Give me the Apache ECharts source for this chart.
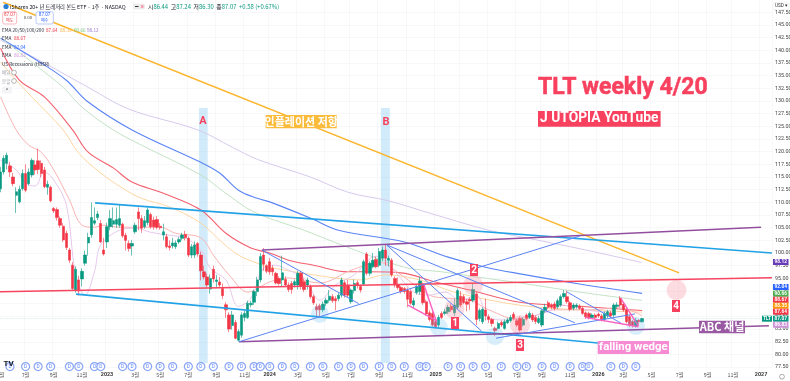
<!DOCTYPE html>
<html><head><meta charset="utf-8">
<style>html,body{margin:0;padding:0;background:#fff}#c{width:790px;height:381px}</style>
<script src="https://cdn.jsdelivr.net/npm/echarts@6/dist/echarts.min.js"></script>
</head><body><div id="c"></div>
<script>
// ---- weekly candles, oldest first (starting week of 2022-05-09) ----
const opens=[112.7,116,117.7,117.2,115,111.4,110.1,112.7,115.7,113.7,
115.4,117.4,118.2,117.7,116.4,113,113,108.8,108.6,106.8,
105.3,103.9,100.6,97.6,92.7,94.7,94.9,98,102,103.6,
105.9,107,105.85,100.6,102.2,105.2,105.7,105.7,105.5,105.7,
103.5,101.9,101.4,104.2,108.1,106.8,105.2,106,107.6,106.5,
106.6,105.3,103.55,103.2,101.4,101.4,101.25,102.2,102.9,103.7,
102.9,99.6,99.6,101.9,99.6,96.3,95.3,92.9,96.8,94.4,
94.3,93,89.8,87.8,85.7,86.3,82.8,83.8,87.3,87.3,
89.8,90.3,92.4,94.7,99.6,97.5,98.3,97,96,95,
94.7,94.8,93.7,94,93.7,93.7,96,94.35,93.7,93.4,
91.4,89.4,89.6,88.8,90.1,90.7,91.4,91,91,91.7,
94.15,93.7,90.4,92.6,94.15,93.4,93.9,99.8,96,97.3,
98.75,97.6,99,100.6,98.6,98.6,95,93.7,93.2,93,
92.7,92.4,89.75,92.2,92.4,93.7,90.4,88.2,88.1,86.45,
85.8,88.1,88.1,88.4,89.5,88.2,89.3,91.5,91.4,90.4,
90.9,90.7,91.9,87.1,86.45,88.76,87.45,86.9,85.14,85.14,
86.3,85.14,86.25,86.65,87.95,86.65,87.1,85.8,87.77,87.3,
87.77,87.3,86.3,85.8,88.6,90.2,89.75,89.95,89.4,89.75,
91.4,91.4,90.2,89.1,89.4,89.55,89.1,88.2,88.1,87.3,
87.77,87.97,87.6,86.9,87.6,88.2,87.77,89.5,91.06,89.95,
88.76,87.45,86.46,85.6,86.7,86.44];
const closes=[116,118.7,119.3,116,113.7,112.1,112.6,115.7,112.4,116,
118.3,116.4,116.5,115.7,113.1,113.6,110.3,108.3,107,105.5,
102.6,101.1,98.6,93,96.8,92.5,96.4,99.6,103.1,107,
106.4,107.7,102.2,99.8,105.2,106.8,106.4,106.6,106.8,103.4,
102.5,100.9,101.9,105.5,106.8,104.9,106.4,108.5,105.2,105.2,
105.1,105,104.2,101.25,101.1,102,102,102.7,103.55,103,
99.6,101.25,101.6,99.8,96.5,95.3,93.7,95,94.9,94.7,
93.7,91.6,88.8,85,87.8,83.2,84.5,87.8,88.1,90.1,
90.1,92.4,94.7,99.3,97.8,96.4,96.3,96.3,94.1,94,
96.1,93.7,92.8,92.8,94.35,96,93.4,92.8,94.7,91.4,
90.2,88.8,88.8,89.9,90.7,91.5,90.6,90.6,91.7,94.7,
91.7,91.7,92.7,94,93.7,92.7,98.3,96,98,98.6,
97.3,100.3,100.6,99,98.95,95.7,93.7,93.2,92.4,92.4,
90.9,90.1,90.6,93.4,94.5,90.2,88,86.9,85.8,85.47,
87.3,87.3,88.4,89.3,88.8,89.75,92.6,89.75,90.2,89.9,
90.6,92.8,86.9,88.7,88.9,87.6,86.9,86.1,84.7,86.1,
85.8,86.46,86.8,87.3,87.1,85.8,84.8,86.9,87.1,88.1,
86.8,86.5,87.1,88.6,89.3,89.3,89.3,89.1,90.6,91.4,
92,90.4,88.9,89.75,89.75,89.1,88.1,87.45,87.3,87.77,
87.3,87.6,86.9,88.1,88.43,87.6,89.75,89.75,89.75,88.76,
86.46,85.8,85.8,86.7,86.49,87.07];
const lows=[112,115.5,116.5,115,113.2,107.9,109.8,112.3,112,113.3,
114.9,115.5,115.6,115,112.8,111.5,110,107.9,106.4,105,
102.2,100.6,98,92.7,92.2,91.6,93.4,97.5,99.5,103,
105.5,106.5,102,99.5,101,104.5,105,105,105,103,
100.5,100.3,99.5,103.8,104.5,104,104.8,105.5,104.8,104.6,
104.7,104.6,102.5,100.9,100.5,100.9,100.8,101.8,102.5,102.5,
99.2,99,99,99.3,94.6,94.8,93.2,92,94.2,93.3,
93.3,90.9,87.2,84.4,84.9,83,82.5,83.3,86.5,87,
89.3,89.8,91.5,94.2,96.5,96,95.7,95.5,93.8,93.6,
93.5,93.3,92.3,92,93.2,92.8,92.8,92.3,92.8,91,
89.8,87.5,87.5,88.3,89.5,90.2,90.2,88.7,90.5,91.2,
91.2,91.2,90,92,93,92.2,93.5,95.6,95.5,97,
97,97.2,98.4,97.5,97.4,95.3,93.2,92.8,92,92,
89.3,89.8,89.2,91.8,91.8,89.8,87.6,86.5,85.5,85.1,
85.2,87,87.7,88,88.4,87.6,88.9,89.3,89.9,88.5,
88.8,90.3,85.8,86.5,86,86.7,86.2,85.5,83.6,84.9,
85.4,84.9,86,86.3,86.7,85.4,84.5,85.5,86.7,87,
86.4,86,86,85.4,88.2,88.9,88.9,88.7,89,89.4,
91,90,88.5,88.7,89,88.8,87.8,87,86.9,87,
87,87.2,86.5,86.5,87.2,87.2,87.4,89,89.3,88.4,
86.1,85.4,85.3,85.3,85.8,86.3];
const highs=[117,119.3,119.8,118,115.8,113,113.3,116.5,117.5,116.7,
118.7,118.3,120.6,118.3,117,114.3,113.3,109.1,109,107.2,
105.9,104.4,101,98.2,97.4,95.5,97,100.5,104,110,
109,108.3,106.5,103,106,108.5,109,109,109.5,106,
104,102.5,102.6,106,109,107.5,107.3,109,108,107.2,
107.3,105.9,105.8,103.8,102.5,103,102.5,103.2,104,104.4,
103.3,101.8,102.3,102.2,100.3,97.5,96,95.8,97.5,95.7,
95.3,94,90.3,88.3,88.6,86.8,85,88.3,88.6,90.6,
90.6,92.8,95.3,100,101,97.8,99,97.6,96.3,95.4,
99.5,95.4,94.2,94.5,94.8,96.5,96.5,95,95.2,93.8,
91.8,90,90,90.5,91.2,92.7,91.9,91.5,92.1,95.2,
94.6,94.7,93,94.8,94.6,93.8,98.7,100.2,98.4,100,
99.3,101,101.3,101.6,99.5,99,95.4,95.2,93.5,93.3,
93.2,92.8,91.2,93.8,95.3,94.2,90.8,88.7,88.5,86.9,
87.8,88.5,89,89.8,90,91,93,92.5,91.8,90.9,
91.2,94,92.3,89.1,89.3,91,87.9,87.2,85.5,86.5,
86.7,86.9,87.2,87.8,88.4,87,87.5,87.3,88.1,88.5,
88.2,87.7,87.6,89,90,90.6,90.1,90.4,91,91.8,
92.7,92.6,90.5,90.1,90.1,89.9,89.4,88.5,88.4,88.1,
88.1,88.3,88,88.5,88.8,88.6,90.1,90.3,91.5,90.3,
89.1,87.8,86.8,87.2,87,87.24];

// ---- moving averages as [week, price] ----
const ema200=[[0,142],[14,137.5],[28,132.7],[41,128.4],[63,124.3],[74,120.9],[82,118.5],[99,115],[111,112],[124,110.3],[137,107.9],[156,104.5],[168,103],[187,100.6],[205,98.12]];
const ema100=[[0,142.4],[13,137.5],[21,134.1],[28,129.8],[42,124.3],[64,117.9],[70,115.8],[76,112.4],[82,110.8],[86,110.1],[99,106.9],[108,104.5],[129,102.2],[143,99.2],[155,97.2],[166,95.9],[185,93.9],[205,92.04]];
const ema50=[[1,142],[12,136.7],[20,132.7],[26,128.8],[36,124.3],[45,121.3],[64,115.4],[72,111.8],[81,108.1],[97,104.5],[109,101.6],[129,97.2],[141,96.3],[152,95.3],[166,94.1],[185,92.3],[205,90.66]];
const ema34=[[0,140.4],[6,134.1],[14,130.8],[23,124.3],[28,119.9],[36,116.8],[42,114],[52,111.8],[64,108.5],[72,103.9],[80,101],[86,100],[92,98.6],[100,97.6],[111,96.3],[118,96.3],[128,96.1],[139,94.3],[150,92.7],[166,90.3],[185,89.5],[205,88.67]];
const ema30=[[0,137.7],[5,134.1],[10,130.8],[20,124.3],[25,119.7],[32,115.8],[39,112.8],[45,110.8],[54,109.1],[64,105.9],[71,102],[76,99.6],[82,98],[86,97.2],[100,95.7],[115,94.7],[123,95.7],[134,94.7],[145,92.3],[166,89.7],[185,88.8],[205,88.35]];
const ema20=[[0,130.8],[5,124.3],[9,121.3],[13,119.9],[17,116.4],[22,110.5],[26,105.5],[30,105.1],[33,105.5],[38,105.1],[45,105.1],[51,105.1],[56,103.9],[64,103],[68,99.6],[73,95.7],[79,92.3],[86,94.3],[92,95.1],[102,94.1],[112,96.6],[121,98.2],[128,95.7],[137,91.7],[143,91.1],[150,90.7],[156,88.8],[166,86.8],[177,88.8],[188,88.8],[198,89.2],[205,87.64]];
const ema10=[[0,118.3],[5,116.4],[8,113.8],[11,113.2],[14,116],[17,114.4],[21,109.5],[24,95.7],[27,91.7],[30,96.3],[32,101.6],[38,104.5],[43,104.9],[48,104.1],[54,103.5],[59,103],[64,100.6],[67,97],[72,94.7],[76,89.5],[80,91.1],[84,97],[88,97.6],[92,96.6],[97,95.1],[102,90.7],[107,93.7],[113,95.7],[120,99.4],[126,96.3],[132,92.3],[137,91.7],[142,92.3],[147,90.7],[152,91.7],[156,87.2],[161,86.8],[166,87.2],[174,88.2],[180,89.7],[187,88.8],[193,88.4],[198,89.7],[202,86.4],[205,86.83]];

// ---- hand-drawn trend lines, [week, price] end points ----
const inflationLine=[[0.8,149.5],[216.8,96.1]];
const channelUpper=[[30.2,109.9],[246.5,100]];
const channelLower=[[24.1,91.9],[190.9,82.25]];
const supportRed=[[-0.5,92.35],[246.5,95.13]];
const abcUpper=[[83.5,100.6],[243,105.1]];
const abcLower=[[76.2,82.5],[245.5,85.66]];
const thinRise1=[[76.2,82.5],[185.1,103.35]];
const thinRise2=[[158.3,83.2],[202.7,88]];
const thinFall1=[[83.5,100.6],[114.4,90.04]];
const thinFall2=[[123.4,101.6],[153.7,84.6]];
const thinFall3=[[123.4,101.6],[183.5,86.25]];
const thinFall4=[[180.9,92.37],[198.4,86.1]];
const wedgeA1=[[130.2,89.74],[139.3,86.65]];
const wedgeA2=[[135.3,93.7],[139.3,86.45]];
const wedgeB1=[[198.2,91.06],[203.8,85.6]];
const wedgeB2=[[186.7,87.3],[203.8,85.46]];

// ---- highlighted zones and markers ----
const zoneWeeks=[[63.4,66.2],[121.5,124.4]];
const zonePrices=[128.6,78.3];
const blueSpots=[[102,88],[140,85.4],[158,83.6],[203,85.6]];
const pinkSpots=[[145,89],[151,93.7],[166,85.8],[216,92.7]];
const dividendWeeks=[3,8,12,16,22,25,30,32,39,42,47,51,55,60,64,68,73,77,81,83,86,90,94,99,103,108,112,116,121,125,129,134,136,143,147,151,155,160,165,168,173,177,182,186,188,195,199,203];
const dividendRowPrice=77.6;
const lastPrice=87.07;

// ---- axis labels ----
const tickLabels={'2022-05-09':'5월','2022-07-04':'7월','2022-09-05':'9월','2022-11-07':'11월','2023-01-02':'2023','2023-03-06':'3월','2023-05-01':'5월','2023-07-03':'7월','2023-09-04':'9월','2023-11-06':'11월','2024-01-01':'2024','2024-03-04':'3월','2024-05-06':'5월','2024-07-01':'7월','2024-09-02':'9월','2024-11-04':'11월','2025-01-06':'2025','2025-03-03':'3월','2025-05-05':'5월','2025-07-07':'7월','2025-09-01':'9월','2025-11-03':'11월','2026-01-05':'2026','2026-03-02':'3월','2026-05-04':'5월','2026-07-06':'7월','2026-09-07':'9월','2026-11-02':'11월','2027-01-04':'2027'};
const weekCount=247;
const categories=[];
for(let i=0;i<weekCount;i++){categories.push(new Date(Date.UTC(2022,4,9+i*7)).toISOString().slice(0,10));}

const UP='#089981',DOWN='#f23645',RED='#f8415e',KR='"Noto Sans CJK KR","Noto Sans",sans-serif',LAT='Roboto,"Noto Sans CJK KR",sans-serif',NARROW='"Liberation Sans Narrow",Roboto,sans-serif';
const isTick=i=>tickLabels[categories[i]]!==undefined;

function emaSeries(d,color,w){return {type:'line',xAxisIndex:1,yAxisIndex:0,data:d,smooth:0.35,showSymbol:false,silent:true,z:2,lineStyle:{color:color,width:w||1}};}
function drawLine(d,color,w){return {type:'line',xAxisIndex:1,yAxisIndex:0,data:d,showSymbol:false,silent:true,z:6,lineStyle:{color:color,width:w}};}
const PURPLE='#934f9f',SKY='#22a2e6',THIN='#5b84f4',PINK='#fb5fc0';

const series=[
 {type:'line',xAxisIndex:1,yAxisIndex:0,data:[[-0.5,lastPrice],[246.5,lastPrice]],showSymbol:false,silent:true,z:1,
  lineStyle:{color:'rgba(8,153,129,0.28)',width:0.6,type:'dotted'},
  markArea:{silent:true,itemStyle:{color:'rgba(90,180,235,0.27)'},data:zoneWeeks.map(z=>[{xAxis:z[0],yAxis:zonePrices[0]},{xAxis:z[1],yAxis:zonePrices[1]}])}},
 emaSeries(ema200,'#d6c9ec'),emaSeries(ema100,'#5a84f5',1.1),emaSeries(ema50,'#c4e3c6'),
 emaSeries(ema34,'#f4606e',1.1),emaSeries(ema30,'#fdd6a0'),emaSeries(ema20,'#f9b3b3'),emaSeries(ema10,'#e6c8ec'),
 {type:'candlestick',xAxisIndex:0,yAxisIndex:0,data:opens.map((o,i)=>[o,closes[i],lows[i],highs[i]]),barWidth:2.8,silent:true,z:4,
  itemStyle:{color:UP,color0:DOWN,borderColor:UP,borderColor0:DOWN,borderWidth:0.6}},
 {type:'scatter',xAxisIndex:1,yAxisIndex:0,data:blueSpots,symbolSize:18,silent:true,z:5,itemStyle:{color:'rgba(100,190,240,0.3)'}},
 {type:'scatter',xAxisIndex:1,yAxisIndex:0,data:pinkSpots,symbolSize:20,silent:true,z:5,itemStyle:{color:'rgba(245,140,155,0.38)'}},
 drawLine(inflationLine,'#fbb62d',1.5),drawLine(channelUpper,SKY,1.6),drawLine(channelLower,SKY,1.6),
 drawLine(supportRed,'#f7455f',1.6),drawLine(abcUpper,PURPLE,1.6),drawLine(abcLower,PURPLE,1.6),
 drawLine(thinRise1,THIN,1),drawLine(thinRise2,THIN,1),drawLine(thinFall1,THIN,1),drawLine(thinFall2,THIN,1),drawLine(thinFall3,THIN,1),drawLine(thinFall4,THIN,1),
 drawLine(wedgeA1,PINK,1.4),drawLine(wedgeA2,PINK,1.4),drawLine(wedgeB1,PINK,1.4),drawLine(wedgeB2,PINK,1.4),
 {type:'scatter',xAxisIndex:1,yAxisIndex:0,data:dividendWeeks.map(w=>[w,dividendRowPrice]),symbolSize:8,silent:true,z:7,clip:false,
  itemStyle:{color:'#fff',borderColor:'#6d8ff5',borderWidth:1.2},
  label:{show:true,position:'inside',formatter:'D',fontSize:4.8,color:'#2962ff',fontFamily:LAT}}
];

// ---- text annotations ----
function txt(x,y,text,fill,size,extra){const e=extra||{};return {type:'text',silent:true,z:50,x:x,y:y,style:{text:text,fill:fill,stroke:e.stroke,lineWidth:e.stroke?0.5:0,font:(e.bold?'bold ':'')+size+'px '+(e.family||KR),textAlign:e.align||'left',textVerticalAlign:'middle'}};}
function box(x,y,w,h,fill,text,size,family){return [
 {type:'rect',silent:true,z:49,shape:{x:x,y:y,width:w,height:h},style:{fill:fill}},
 txt(x+w/2,y+h/2,text,'#fff',size,{bold:true,align:'center',family:family})];}
function badge(y,fill,text){return box(773,y-3,15.5,6,fill,text,4.8,LAT);}
const graphic=[
 {type:'circle',silent:true,z:50,shape:{cx:6,cy:6.5,r:2.6},style:{fill:'#2a7fd5'}},
 txt(10,6.5,'iShares 20+ 년 트레저리 본드 ETF · 1주 · NASDAQ','#131722',5.3),
 {type:'rect',silent:true,z:50,shape:{x:133,y:3.5,width:12,height:6,r:2},style:{fill:'#ececec'}},
 {type:'rect',silent:true,z:51,shape:{x:141,y:5,width:2.5,height:3},style:{fill:'#f9a0ae'}},
 {type:'rect',silent:true,z:51,shape:{x:135,y:6,width:3.5,height:1},style:{fill:'#333'}},
 {type:'text',silent:true,z:50,x:148,y:6.5,style:{text:'{d|시}{g|86.44}  {d|고}{g|87.24}  {d|저}{g|86.30}  {d|종}{g|87.07  +0.58 (+0.67%)}',font:'5.9px '+KR,textVerticalAlign:'middle',rich:{d:{fill:'#131722',font:'5.9px '+KR},g:{fill:'#089981',font:'5.9px '+KR}}}},
 {type:'rect',silent:true,z:50,shape:{x:2.7,y:11.7,width:14,height:12.3,r:2},style:{fill:'#fff',stroke:'#f7a8ad',lineWidth:0.8}},
 txt(9.7,15.3,'87.07',DOWN,4.6,{align:'center',family:LAT}),txt(9.7,20.5,'매도',DOWN,4,{align:'center'}),
 txt(28,17.5,'0.00','#555',4.4,{align:'center',family:LAT}),
 {type:'rect',silent:true,z:50,shape:{x:36,y:11.7,width:17.3,height:12.3,r:2},style:{fill:'#fff',stroke:'#a9bdf8',lineWidth:0.8}},
 txt(44.6,15.3,'87.07','#2962ff',4.6,{align:'center',family:LAT}),txt(44.6,20.5,'매수','#2962ff',4,{align:'center'}),
 txt(2,30,'EMA 20/50/100/200','#2a2e39',4.7),txt(46,30,'87.64',DOWN,4.7),txt(60,30,'88.35','#ffb74d',4.7),txt(74,30,'90.66','#81c784',4.7),txt(87,30,'98.12','#9575cd',4.7),
 txt(2,38.5,'EMA','#2a2e39',4.7),txt(14,38.5,'88.67',DOWN,4.7),
 txt(2,47,'EMA','#2a2e39',4.7),txt(14,47,'92.04','#2962ff',4.7),
 txt(2,55.5,'EMA','#2a2e39',4.7),txt(14,55.5,'86.83','#ce93d8',4.7),
 txt(2,64,'US Recessions (HBSR)','#2a2e39',4.7),
 txt(2,72.5,'배당','#a0a3ad',4.6),{type:'circle',silent:true,z:50,shape:{cx:14,cy:72.5,r:2.4},style:{fill:'#fff',stroke:'#888',lineWidth:0.6}},
 txt(2,81,'분할','#a0a3ad',4.6),{type:'circle',silent:true,z:50,shape:{cx:14,cy:81,r:2.4},style:{fill:'#fff',stroke:'#888',lineWidth:0.6}},
 {type:'rect',silent:true,z:50,shape:{x:2,y:86.5,width:10,height:7,r:1.5},style:{fill:'#f4f4f6'}},
 txt(7,90.5,'^','#333',5,{align:'center',family:LAT}),
 txt(8.5,363.5,'TV','#131722',8,{bold:true,align:'center',family:LAT}),
 {type:'rect',silent:true,z:50,shape:{x:773,y:2.5,width:16,height:7,r:1.5},style:{fill:'#fff',stroke:'#e8e8ea',lineWidth:0.5}},
 txt(775,6.2,'USD ▾','#333',4.6,{family:LAT}),
 {type:'circle',silent:true,z:50,shape:{cx:782,cy:376.7,r:2.4},style:{fill:'#fff',stroke:'#777',lineWidth:0.6}},
 txt(538,88,'TLT weekly 4/20',RED,23,{bold:true,family:NARROW,stroke:RED}),
 ...box(538,111,122.6,15.7,RED,'J UTOPIA YouTube',13.8,NARROW),
 ...box(265.7,115,71,13.3,'#fbbc3c','인플레이션 저항',11),
 txt(203,121.5,'A',RED,11,{bold:true,align:'center',family:LAT}),
 txt(386,122,'B',RED,11,{bold:true,align:'center',family:LAT}),
 ...box(451,317,8,12,RED,'1',10,LAT),
 ...box(470,264,8,12,RED,'2',10,LAT),
 ...box(516,339,8,12,RED,'3',10,LAT),
 ...box(672,300,8,12,RED,'4',10,LAT),
 ...box(699,320.7,46,12.5,'#9a5aa3','ABC 채널',11),
 ...box(597.7,341,71.3,13,'#f78bd3','falling wedge',11.4,LAT),
 ...badge(262,'#673ab7','98.12'),...badge(287,'#2962ff','92.04'),...badge(293.7,'#4caf50','90.66'),
 ...badge(299.7,'#f23645','88.67'),...badge(305.7,'#ff9800','88.35'),...badge(311.7,'#f23645','87.64'),
 ...badge(318.7,'#089981','87.07'),...badge(324.7,'#ce93d8','86.83'),
 ...box(762,315.7,10,6,'#089981','TLT',4.6,LAT)
];

const chart=echarts.init(document.getElementById('c'),null,{renderer:'canvas',width:790,height:381});
chart.setOption({
 animation:false,backgroundColor:'#fff',
 grid:{left:-1,width:773,top:-0.35,height:367.45,containLabel:false,show:false,outerBoundsMode:'none'},
 xAxis:[
  {type:'category',data:categories,boundaryGap:true,axisLine:{show:false},axisTick:{show:false},
   splitLine:{show:true,interval:i=>isTick(i),lineStyle:{color:'#f3f4f6',width:0.6}},
   axisLabel:{interval:i=>isTick(i),hideOverlap:false,margin:5,fontSize:5.4,color:'#555',fontFamily:KR,
    formatter:v=>{const s=tickLabels[v]||'';return s.length===4?'{y|'+s+'}':s;},rich:{y:{fontSize:5.4,fontWeight:'bold',color:'#333',fontFamily:LAT}}}},
  {type:'value',min:-0.5,max:246.5,show:false,splitLine:{show:false}}
 ],
 yAxis:[{type:'value',position:'right',min:77.5,max:150,interval:2.5,axisLine:{show:false},axisTick:{show:false},
  splitLine:{show:true,lineStyle:{color:'#f3f4f6',width:0.6}},
  axisLabel:{margin:3,fontSize:5.4,color:'#444',fontFamily:LAT,formatter:v=>v>=150?'':v.toFixed(2)}}],
 series:series,
 graphic:graphic
});
</script></body></html>
